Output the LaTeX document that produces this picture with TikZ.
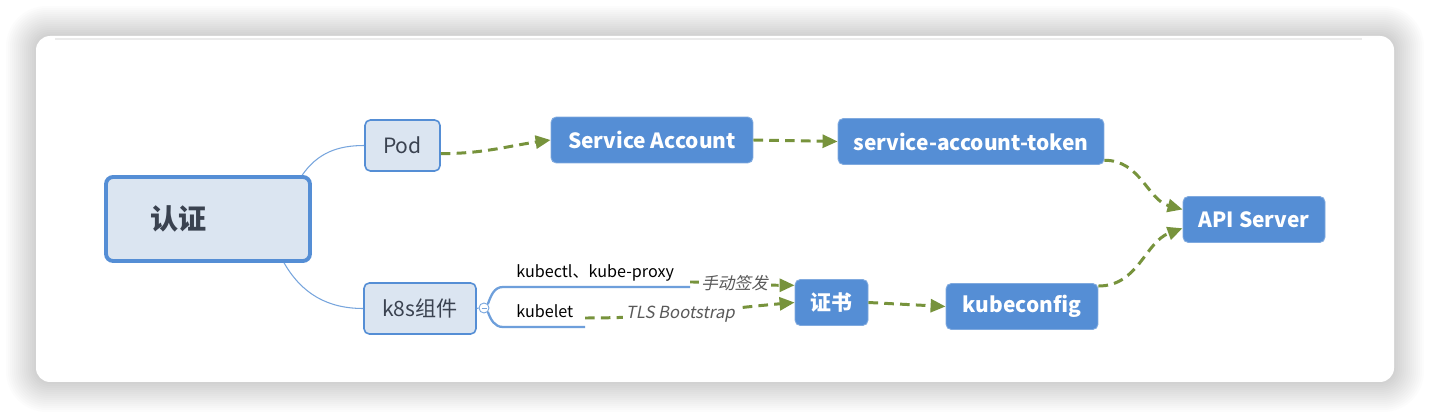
\documentclass[tikz,border=0pt]{standalone}
\usepackage{fontspec}
\setmainfont{Noto Sans CJK SC}
\newfontfamily\slfont[FakeSlant=0.2]{Noto Sans CJK SC}
\usepackage{tikz}
\usetikzlibrary{arrows.meta, positioning}

\definecolor{nodeblue}{HTML}{558ED5}
\definecolor{lightfill}{HTML}{DBE5F1}
\definecolor{darktext}{HTML}{3A4250}
\definecolor{flowgreen}{HTML}{77933C}
\definecolor{labelgray}{HTML}{595959}

\begin{document}
\begin{tikzpicture}[x=0.02cm, y=-0.02cm,
            root/.style={draw=nodeblue, line width=2.2pt, fill=lightfill, rounded corners=4pt, minimum height=1.68cm, inner xsep=0.88cm, text width=2.32cm, align=left, text=darktext, font=\fontsize{16}{18}\selectfont\bfseries},
            topic/.style={draw=nodeblue, line width=0.9pt, fill=lightfill, rounded corners=3pt, minimum height=1.02cm, text=darktext, font=\fontsize{12}{14}\selectfont},
            flowbox/.style={draw=nodeblue!75!white, line width=0.5pt, fill=nodeblue, rounded corners=3pt, minimum height=0.92cm, text=white, font=\fontsize{11.9}{14}\selectfont\bfseries},
            branch/.style={draw=nodeblue!80!white, line width=0.6pt},
            sub/.style={draw=nodeblue!85!white, line width=1.3pt},
            subtext/.style={text=black, font=\fontsize{9.2}{11}\selectfont, inner sep=0pt},
            flow/.style={draw=flowgreen, line width=1.7pt, dash pattern=on 5.5pt off 3.5pt, -{Triangle[length=0.3cm, width=0.26cm]}},
            lbl/.style={fill=white, inner sep=1.5pt, text=labelgray, font=\fontsize{9.5}{11}\selectfont\slfont}]

            \useasboundingbox (0,0) rectangle (1430,418);

            % Card with soft shadow
            \foreach \s in {1,...,15}
                \fill[black, opacity=0.013, rounded corners=8+\s] (36-2*\s,36-2*\s) rectangle (1394+2*\s,382+2*\s);
            \fill[white, rounded corners=8] (36,36) rectangle (1394,382);
            \draw[black!8, line width=1.7pt] (55,39) -- (1362,39);

            % Mind map nodes
            \node[root] (root) at (208,219) {认证};
            \node[topic, minimum width=1.5cm] (pod) at (402.5,145.5) {Pod};
            \node[topic, minimum width=2.24cm] (k8s) at (420,308.5) {k8s组件};
            \node[circle, draw=nodeblue!80!white, fill=white, line width=0.5pt, minimum size=0.2cm, inner sep=0pt] (knob) at (484,308) {};
            \draw[nodeblue!80!white, line width=0.5pt] (481.5,308) -- (486.5,308);

            % Flow nodes
            \node[flowbox, minimum width=4.04cm] (sa) at (652,140) {Service Account};
            \node[flowbox, minimum width=5.32cm] (sat) at (971,141.5) {service-account-token};
            \node[flowbox, minimum width=2.84cm] (api) at (1254,219.5) {API Server};
            \node[flowbox, minimum width=1.46cm] (cert) at (831.5,302.5) {证书};
            \node[flowbox, minimum width=3.04cm] (kcfg) at (1022,306.5) {kubeconfig};

            % Branches
            \draw[branch] (root.25) to[out=55, in=180] (pod.west);
            \draw[branch] (root.-30) to[out=-60, in=180] (k8s.west);
            \draw[branch] (k8s.east) -- (knob.west);

            % Sub topics
            \coordinate (clstart) at (503,287);
            \coordinate (clend) at (690,287);
            \coordinate (clarr) at (690,282);
            \coordinate (klstart) at (503,327);
            \coordinate (klend) at (585,327);
            \coordinate (klarr) at (585,318);
            \draw[sub] (knob.north east) to[out=70, in=180] (clstart) -- (clend);
            \draw[sub] (knob.south east) to[out=-70, in=180] (klstart) -- (klend);
            \node[subtext, anchor=base west] (kctl) at (516,278) {kubectl、kube-proxy};
            \node[subtext, anchor=base west] (klet) at (516,318) {kubelet};

            % Authentication flows
            \draw[flow] (pod.-12) to[out=0, in=188] (sa.west);
            \draw[flow] (sa.east) -- (sat.west);
            \draw[flow] (sat.-8) to[out=0, in=165] (api.172);
            \draw[flow] (kcfg.15) to[out=0, in=200] (api.187);
            \draw[flow] (clarr) to[out=0, in=180] node[lbl, pos=0.42] (manual) {手动签发} (cert.155);
            \draw[flow] (klarr) to[out=0, in=185] node[lbl, pos=0.45] (tls) {TLS Bootstrap} (cert.180);
            \draw[flow] (cert.east) -- (kcfg.west);
        \end{tikzpicture}
\end{document}
